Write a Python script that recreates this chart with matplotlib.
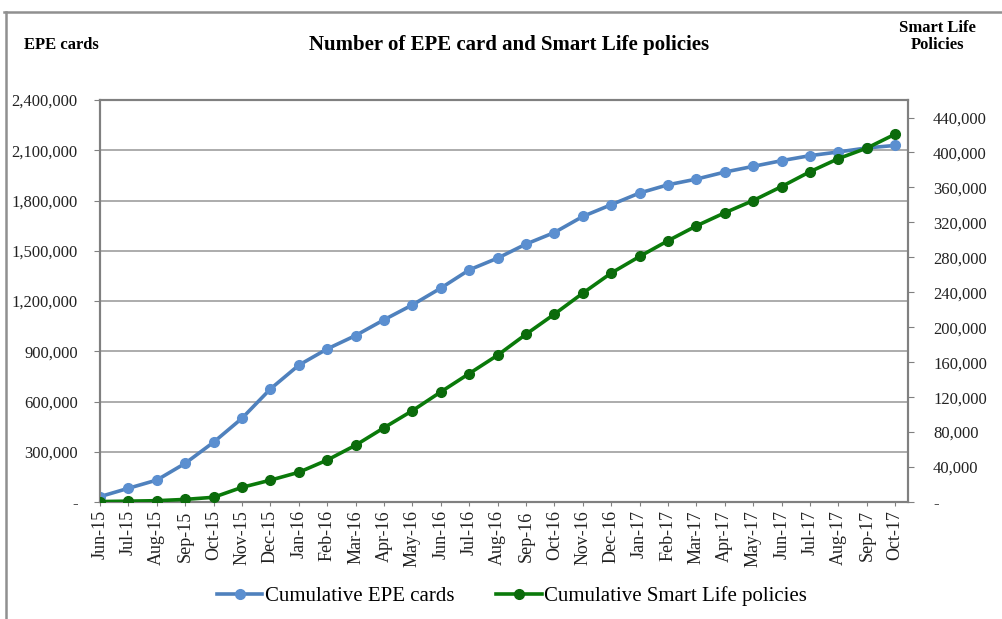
import matplotlib.pyplot as plt
from matplotlib.lines import Line2D
from matplotlib.ticker import FuncFormatter

plt.rcParams["font.family"] = ["Liberation Serif", "DejaVu Serif"]

months = [
    "Jun-15", "Jul-15", "Aug-15", "Sep-15", "Oct-15", "Nov-15", "Dec-15",
    "Jan-16", "Feb-16", "Mar-16", "Apr-16", "May-16", "Jun-16", "Jul-16",
    "Aug-16", "Sep-16", "Oct-16", "Nov-16", "Dec-16", "Jan-17", "Feb-17",
    "Mar-17", "Apr-17", "May-17", "Jun-17", "Jul-17", "Aug-17", "Sep-17",
    "Oct-17",
]
epe_cards = [
    32000, 82000, 131000, 231000, 357000, 500000, 675000,
    817000, 914000, 994000, 1088000, 1177000, 1277000, 1386000,
    1456000, 1540000, 1609000, 1705000, 1775000, 1845000, 1894000,
    1928000, 1970000, 2004000, 2038000, 2068000, 2090000, 2114000,
    2129000,
]
smart_life = [
    500, 1000, 1500, 3000, 5400, 16800, 25000,
    34000, 48000, 65000, 85000, 104500, 126000, 147000,
    168000, 192000, 215000, 239000, 262000, 281000, 299000,
    316000, 331000, 345000, 361000, 378000, 393000, 405000,
    421000,
]
left_ticks = list(range(0, 2400001, 300000))
right_ticks = list(range(0, 440001, 40000))

BLUE = "#4f81bd"
GREEN = "#0a7a0a"
GRID = "#a6a6a6"


def fmt(v, _pos=None):
    return "-" if v == 0 else f"{v:,.0f}"


fig = plt.figure(figsize=(10.03, 6.19), dpi=100)
ax = fig.add_axes([0.0997, 0.189, 0.8056, 0.6494])
ax2 = ax.twinx()

x = list(range(len(months)))
ax.plot(x, epe_cards, color=BLUE, lw=2.6, marker="o", ms=7,
        mfc="#5b8fd0", mec="#5b8fd0", label="Cumulative EPE cards", zorder=3)
ax2.plot(x, smart_life, color=GREEN, lw=2.6, marker="o", ms=7,
         mfc="#0b6b0b", mec="#0b6b0b", label="Cumulative Smart Life policies",
         zorder=3)

ax.set_xlim(0, 28.45)
ax.set_ylim(0, 2400000)
ax2.set_ylim(0, 460000)
ax.set_xticks(x)
ax.set_xticklabels(months, rotation=90, fontsize=13, color="#222222")
ax.set_yticks(left_ticks)
ax2.set_yticks(right_ticks)
ax.yaxis.set_major_formatter(FuncFormatter(fmt))
ax2.yaxis.set_major_formatter(FuncFormatter(fmt))

ax.tick_params(axis="y", labelsize=12, colors="#222222", length=4, pad=12,
               color="#808080")
ax2.tick_params(axis="y", labelsize=12, colors="#222222", length=4, pad=14,
                color="#808080")
ax.tick_params(axis="x", length=3, pad=3, color="#808080")

ax.grid(axis="y", color=GRID, lw=1.3)
ax.set_axisbelow(True)
for a in (ax, ax2):
    for sp in a.spines.values():
        sp.set_color("#808080")
        sp.set_linewidth(1.5)

fig.text(0.024, 0.927, "EPE cards", fontsize=12, fontweight="bold",
         ha="left", va="center")
fig.text(0.508, 0.927, "Number of EPE card and Smart Life policies",
         fontsize=15, fontweight="bold", ha="center", va="center")
fig.text(0.935, 0.941, "Smart Life\nPolicies", fontsize=12, fontweight="bold",
         ha="center", va="center", linespacing=1.1)

# chart area border (top and left edges only visible)
fig.add_artist(Line2D([0.004, 1.0], [0.981, 0.981], color="#909090", lw=1.8))
fig.add_artist(Line2D([0.006, 0.006], [0.0, 0.981], color="#909090", lw=1.8))

h1, l1 = ax.get_legend_handles_labels()
h2, l2 = ax2.get_legend_handles_labels()
fig.legend(h1 + h2, l1 + l2, loc="center", bbox_to_anchor=(0.51, 0.037),
           ncol=2, frameon=False, fontsize=15, handlelength=2.2,
           handletextpad=0.1, columnspacing=2.0)

fig.savefig("out.png", dpi=100)
